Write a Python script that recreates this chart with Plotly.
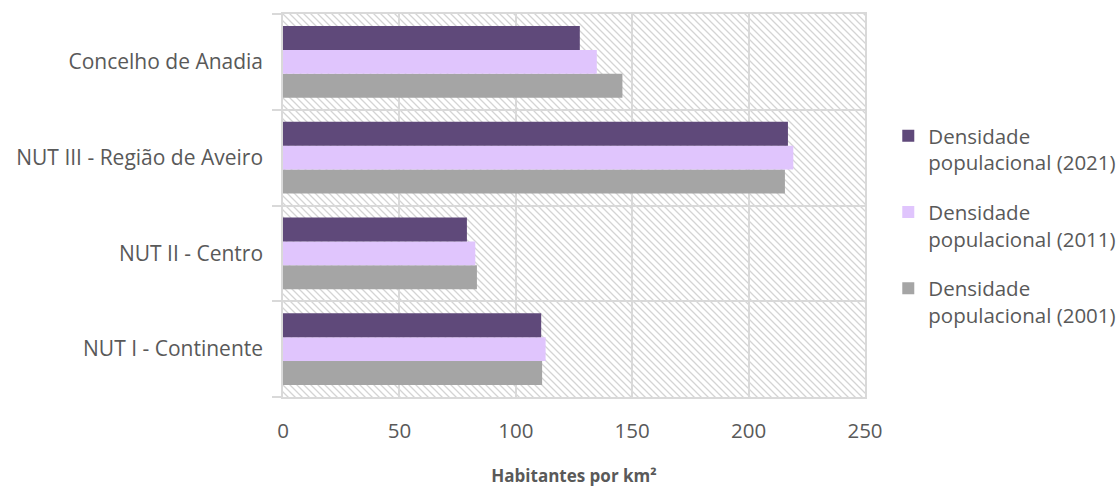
import base64
import plotly.graph_objects as go

# Population density (inhabitants per km²) by territorial unit
categories = [
    "NUT I - Continente",
    "NUT II - Centro",
    "NUT III - Região de Aveiro",
    "Concelho de Anadia",
]
dens_2001 = [111.3, 83.3, 215.6, 145.8]
dens_2011 = [112.8, 82.6, 219.2, 134.8]
dens_2021 = [110.9, 79.0, 216.9, 127.5]

# (label, values, colour, legend rank)
series = [
    ("Densidade<br>populacional (2001)", dens_2001, "#a5a5a5", 3),
    ("Densidade<br>populacional (2011)", dens_2011, "#e0c5fd", 2),
    ("Densidade<br>populacional (2021)", dens_2021, "#5f497a", 1),
]

x_ticks = [0, 50, 100, 150, 200, 250]

FONT = "Open Sans, Liberation Sans, sans-serif"
TXT = "#595959"
GRID = "#d9d9d9"
FS = 20.5

fig = go.Figure()
for i, (name, vals, color, rank) in enumerate(series):
    fig.add_trace(go.Bar(
        y=categories, x=vals, name=name, orientation="h",
        marker=dict(color=color, line=dict(width=0)),
        legendgroup=f"g{i}", legendrank=rank,
    ))

# Diagonal hatch behind the plotting area
hatch_svg = (
    '<svg xmlns="http://www.w3.org/2000/svg" width="582" height="383" '
    'viewBox="0 0 582 383" preserveAspectRatio="none">'
    '<defs><pattern id="h" width="7" height="7" patternUnits="userSpaceOnUse">'
    '<path d="M-2,5 L2,9 M0,0 L7,7 M5,-2 L9,2" stroke="#d4d4d4" stroke-width="1.3"/>'
    '</pattern></defs>'
    '<rect width="582" height="383" fill="#ffffff"/>'
    '<rect width="582" height="383" fill="url(#h)"/></svg>'
)
hatch_uri = "data:image/svg+xml;base64," + base64.b64encode(hatch_svg.encode()).decode()

fig.update_layout(
    width=1120, height=487,
    margin=dict(l=283, r=255, t=14, b=90, autoexpand=False),
    paper_bgcolor="#ffffff",
    plot_bgcolor="rgba(0,0,0,0)",
    barmode="group",
    bargap=0.25,
    bargroupgap=0,
    font=dict(family=FONT, size=FS, color=TXT),
    images=[dict(
        source=hatch_uri, xref="paper", yref="paper",
        x=0, y=1, sizex=1, sizey=1, xanchor="left", yanchor="top",
        sizing="stretch", layer="below",
    )],
    legend=dict(
        x=1.04, y=0.734, xanchor="left", yanchor="top",
        traceorder="grouped", tracegroupgap=20,
        valign="top", font=dict(family=FONT, size=FS, color=TXT),
        bgcolor="rgba(0,0,0,0)",
    ),
    showlegend=True,
)

fig.update_xaxes(
    range=[0, 250], tickvals=x_ticks, ticktext=[str(v) for v in x_ticks],
    showgrid=True, gridcolor=GRID, gridwidth=1.5,
    zeroline=False, showline=True, linecolor=GRID, linewidth=1.5, mirror=True,
    ticks="", ticklabelstandoff=15, automargin=False,
    tickfont=dict(family=FONT, size=FS, color=TXT),
    title=dict(text="<b>Habitantes por km²</b>", standoff=28,
               font=dict(family=FONT, size=17, color=TXT)),
    fixedrange=True,
)
fig.update_yaxes(
    type="category", categoryorder="array", categoryarray=categories,
    tickson="boundaries", showgrid=True, gridcolor=GRID, gridwidth=1.5,
    showline=True, linecolor=GRID, linewidth=1.5, mirror=True,
    ticks="outside", ticklen=9, tickcolor=GRID, tickwidth=1.5,
    ticklabelstandoff=14, automargin=False,
    tickfont=dict(family=FONT, size=21, color=TXT),
    fixedrange=True,
)

fig.write_html("out.html")
